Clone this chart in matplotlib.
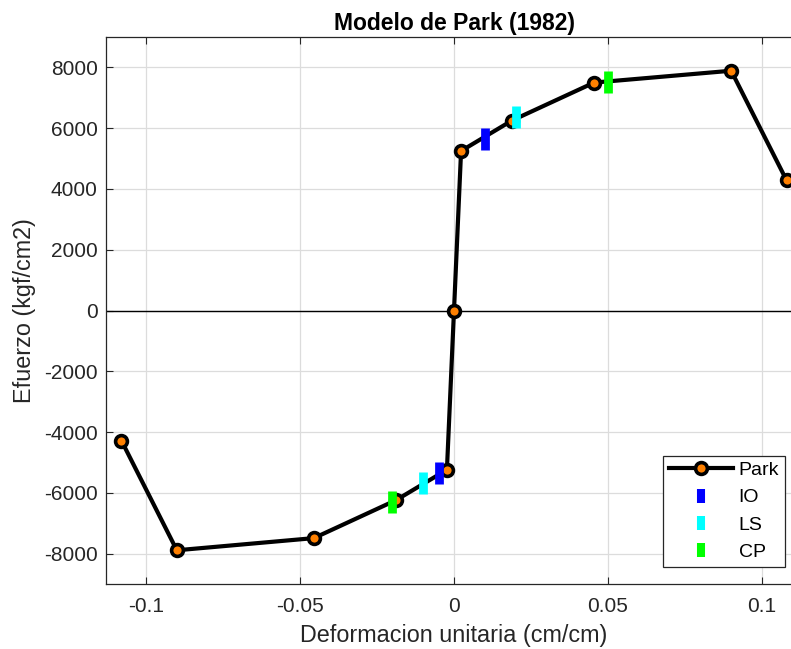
import matplotlib
matplotlib.use("Agg")
import matplotlib.pyplot as plt
from matplotlib.lines import Line2D

plt.rcParams['font.family'] = ['Liberation Sans', 'DejaVu Sans']
plt.rcParams['axes.unicode_minus'] = False

# Park model curve
strain = [-0.108, -0.090, -0.0455, -0.0188, -0.0023, 0.0, 0.0023, 0.0188, 0.0455, 0.090, 0.108]
stress = [-4280, -7890, -7490, -6240, -5240, 0, 5250, 6250, 7500, 7890, 4280]

# Performance levels
io_x = [0.010, -0.005]
io_y = [5640, -5350]
ls_x = [0.020, -0.010]
ls_y = [6380, -5680]
cp_x = [0.050, -0.020]
cp_y = [7530, -6300]

title = "Modelo de Park (1982)"
xlabel = "Deformacion unitaria (cm/cm)"
ylabel = "Efuerzo (kgf/cm2)"
xticks = [-0.1, -0.05, 0, 0.05, 0.1]
xtick_labels = ["-0.1", "-0.05", "0", "0.05", "0.1"]
yticks = [-8000, -6000, -4000, -2000, 0, 2000, 4000, 6000, 8000]

fig = plt.figure(figsize=(7.91, 6.49), dpi=100)
ax = fig.add_axes([106/791, 1-584/649, (802-106)/791, (584-37)/649])

ax.axhline(0, color='black', lw=1.0, zorder=2)
ax.plot(strain, stress, color='black', lw=3.0, marker='o', ms=8.5,
        mfc=(1, 0.5, 0), mec='black', mew=2.6, zorder=3)

bar_kw = dict(ls='none', marker='|', ms=16.5, mew=6.3, zorder=4)
ax.plot(io_x, io_y, color=(0, 0, 1), **bar_kw)
ax.plot(ls_x, ls_y, color=(0, 1, 1), **bar_kw)
ax.plot(cp_x, cp_y, color=(0, 1, 0), **bar_kw)

ax.set_xlim(-0.113, 0.113)
ax.set_ylim(-9000, 9000)
ax.set_xticks(xticks)
ax.set_xticklabels(xtick_labels)
ax.set_yticks(yticks)
ax.grid(True, color='#dcdcdc', lw=0.9)
ax.set_axisbelow(True)
ax.tick_params(direction='in', top=True, right=True, labelsize=15, length=5,
               color='#262626', labelcolor='#262626')
ax.tick_params(axis='x', pad=9)
ax.tick_params(axis='y', pad=6)
for s in ax.spines.values():
    s.set_color('#262626')
    s.set_linewidth(0.9)

ax.set_title(title, fontsize=16.5, fontweight='bold', pad=5)
ax.set_xlabel(xlabel, fontsize=16.8, color='#262626', labelpad=6)
ax.set_ylabel(ylabel, fontsize=16.8, color='#262626', labelpad=6)

handles = [
    Line2D([], [], color='black', lw=3.0, marker='o', ms=8.5, mfc=(1, 0.5, 0), mec='black', mew=2.6),
    Line2D([], [], ls='none', marker='|', ms=9.4, mew=5.8, color=(0, 0, 1)),
    Line2D([], [], ls='none', marker='|', ms=9.4, mew=5.8, color=(0, 1, 1)),
    Line2D([], [], ls='none', marker='|', ms=9.4, mew=5.8, color=(0, 1, 0)),
]
leg = ax.legend(handles, ["Park", "IO", "LS", "CP"], loc='lower right',
                bbox_to_anchor=((785-106)/(802-106), (584-567)/(584-37)),
                fontsize=14, fancybox=False, framealpha=1, edgecolor='#262626',
                borderpad=0.3, handlelength=3.3, handletextpad=0.3,
                labelspacing=0.5, borderaxespad=0)
leg.get_frame().set_linewidth(0.9)

fig.savefig("out.png", dpi=100)
